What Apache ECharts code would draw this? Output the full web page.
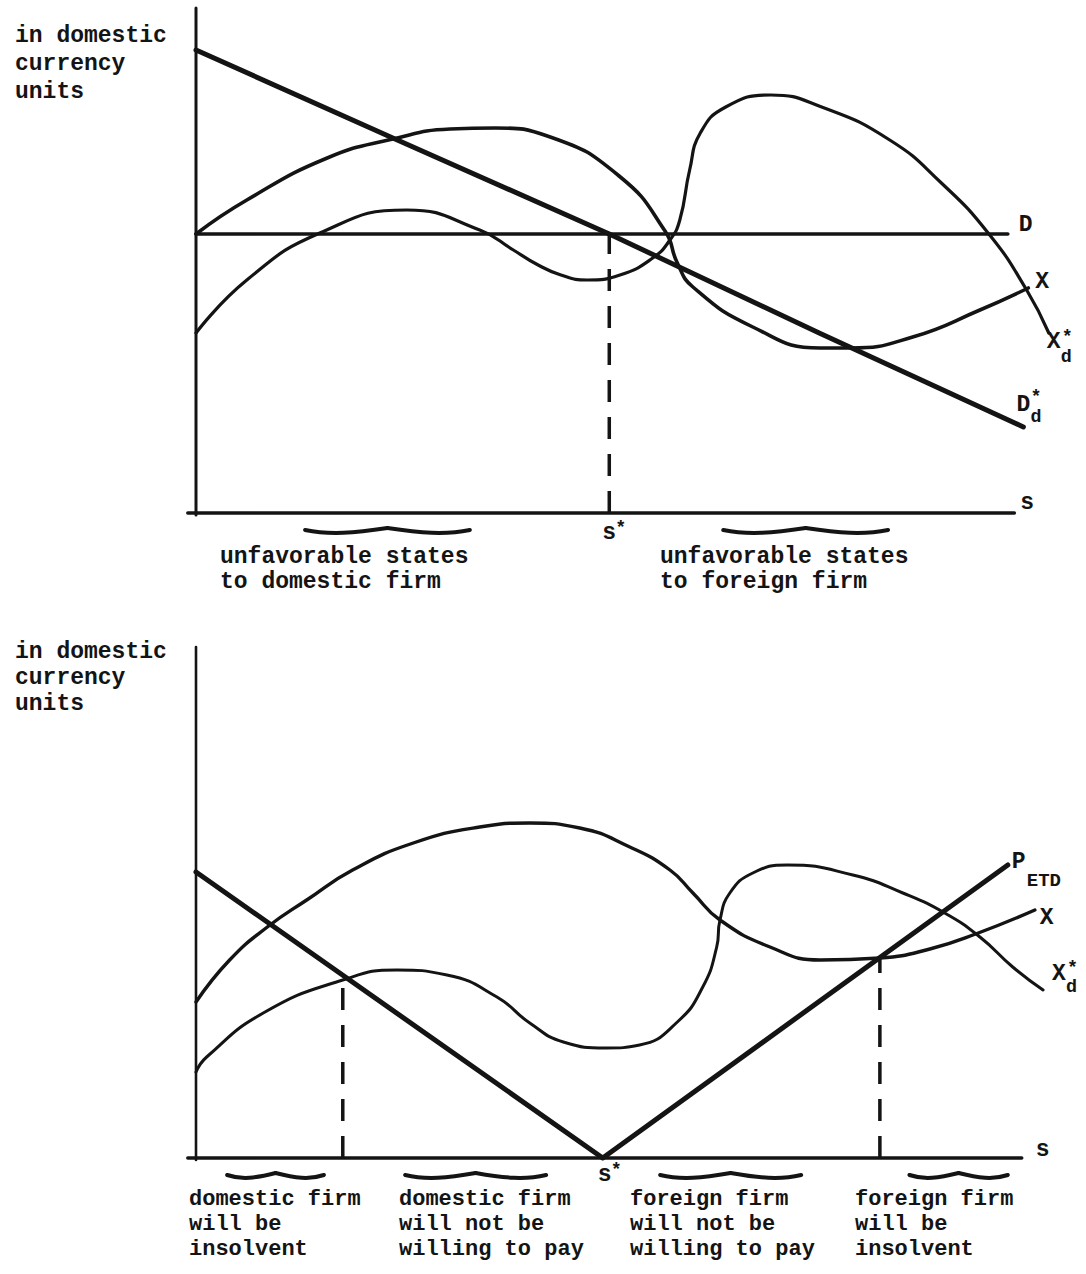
<!DOCTYPE html>
<html>
<head>
<meta charset="utf-8">
<script src="https://cdn.jsdelivr.net/npm/echarts@6/dist/echarts.min.js"></script>
<style>
html,body{margin:0;padding:0;background:#fff;}
#chart{width:1086px;height:1274px;}
</style>
</head>
<body>
<div id="chart"></div>
<script>
// ---------- DATA (s = state axis, value = domestic currency units) ----------
// Top panel
const topAxisS   = [[-1, 0], [99.8, 0]];
const topAxisV   = [[0, -0.4], [0, 101]];
const topD       = [[0, 55.8], [99, 55.8]];
const topDdStar  = [[0, 92.6], [24, 75], [50.4, 55.8], [76, 36], [100.9, 17.2]];
const topX       = [[0, 55.8], [6.2, 62.6], [16, 71], [24, 74.8], [31, 76.8], [36.5, 77], [43.2, 75.2],
                    [51.6, 67.4], [57.2, 56.4], [58.7, 50], [60.6, 45.2], [67.9, 37.2],
                    [76.1, 33], [79.8, 33], [87.4, 35.2], [95.6, 40.6], [101.5, 45]];
const topXdStar  = [[0, 36], [6.2, 46.6], [15.1, 56], [25.7, 60.6], [34.6, 56.6], [38.7, 52.6],
                    [41.5, 49.8], [44.5, 47.6], [47.7, 46.6], [51.7, 47.6], [55.7, 51], [57.8, 54.6],
                    [59, 58.6], [60.2, 68.6], [61.5, 76], [64.6, 81.2], [70.1, 83.6], [76.3, 81.2],
                    [84.6, 74.6], [90.9, 66], [96.7, 55.8], [101.3, 44.6], [104, 36]];
const topSStar   = [[50.4, 0], [50.4, 55.8]];
const topBraces  = [[13.3, 33.4], [64.3, 84.4]];
const topNotes   = ["unfavorable states\nto domestic firm", "unfavorable states\nto foreign firm"];

// Bottom panel
const botAxisS   = [[-1, 0], [100.7, 0]];
const botAxisV   = [[0, -0.4], [0, 102.2]];
const botPETD    = [[0, 57.2], [49.6, 0], [99, 58.6]];
const botX       = [[0, 31.2], [4.1, 39.6], [8.7, 46.2], [13.5, 51.6], [19.1, 57.6], [26.5, 63],
                    [34.6, 66.2], [40.7, 67], [46.8, 66], [52.9, 62.2], [57.8, 57.6], [60.6, 53],
                    [63.9, 47.6], [70, 42.2], [76.1, 39.6], [83.4, 40], [89.5, 41.8], [95.4, 45],
                    [102.3, 49.6]];
const botXdStar  = [[0, 17.2], [1.3, 20.2], [8.2, 29], [17.9, 35.6], [24.5, 37.6], [30.6, 36.6],
                    [36.7, 32.2], [40.7, 27], [44.8, 23.2], [50, 22], [54.1, 22.6], [58.7, 27.2],
                    [61.8, 34.2], [63.5, 42.2], [63.9, 47.6], [65.1, 53], [67.9, 57], [72.1, 58.6],
                    [80.1, 56.6], [86.2, 53], [91.3, 49], [95.6, 44.2], [99.6, 38.2], [103.3, 33.6]];
const botDashL   = [[17.9, 0], [17.9, 35.6]];
const botDashR   = [[83.4, 0], [83.4, 40]];
const botBraces  = [[3.8, 15.6], [25.5, 42.7], [56.6, 73.8], [87, 99]];
const botNotes   = ["domestic firm\nwill be\ninsolvent",
                    "domestic firm\nwill not be\nwilling to pay",
                    "foreign firm\nwill not be\nwilling to pay",
                    "foreign firm\nwill be\ninsolvent"];
const yTitle     = "in domestic\ncurrency\nunits";

// ---------- CHART ----------
const INK = '#141414';
const FONT = '"Liberation Mono", "DejaVu Sans Mono", monospace';
const chart = echarts.init(document.getElementById('chart'), null, {renderer: 'svg'});

function ln(data, gi, w, extra) {
  return Object.assign({
    type: 'line', xAxisIndex: gi, yAxisIndex: gi, data: data,
    showSymbol: false, symbol: 'none', silent: true, animation: false, clip: false,
    lineStyle: {color: INK, width: w, cap: 'round', join: 'round'}
  }, extra || {});
}
const curve = {smooth: 0.5};
const dash = (w) => ({lineStyle: {color: INK, width: w, type: [22, 15], cap: 'butt'}});

const xAx = (gi) => ({type: 'value', gridIndex: gi, min: -2, max: 105, show: false});
chart.setOption({
  backgroundColor: '#ffffff',
  animation: false,
  grid: [
    {left: 179.6, width: 877.4, top: 8, height: 505},
    {left: 179.6, width: 877.4, top: 647, height: 511}
  ],
  xAxis: [xAx(0), xAx(1)],
  yAxis: [
    {type: 'value', gridIndex: 0, min: 0, max: 101, show: false},
    {type: 'value', gridIndex: 1, min: 0, max: 102.2, show: false}
  ],
  series: [
    ln(topAxisS, 0, 3.5), ln(topAxisV, 0, 3),
    ln(topD, 0, 3.6),
    ln(topDdStar, 0, 5),
    ln(topX, 0, 3.6, curve),
    ln(topXdStar, 0, 3.2, curve),
    Object.assign(ln(topSStar, 0, 3.5), dash(3.5)),
    ln(botAxisS, 1, 3.5), ln(botAxisV, 1, 2.6),
    ln(botPETD, 1, 5),
    ln(botX, 1, 3.4, curve),
    ln(botXdStar, 1, 3, curve),
    Object.assign(ln(botDashL, 1, 3.5), dash(3.5)),
    Object.assign(ln(botDashR, 1, 3.5), dash(3.5))
  ]
});

// ---------- TEXT & BRACES (anchored through the chart's own scales) ----------
const px = (gi, pt) => chart.convertToPixel({gridIndex: gi}, pt);
const els = [];
function txt(text, x, y, size, opts) {
  els.push(Object.assign({
    type: 'text', silent: true, x: x, y: y,
    style: Object.assign({text: text, fill: INK, fontFamily: FONT, fontWeight: 'bold',
                          fontSize: size, align: 'left', verticalAlign: 'middle'}, opts || {})
  }));
}
function brace(gi, range, dy) {
  const a = px(gi, [range[0], 0]), b = px(gi, [range[1], 0]);
  const y = a[1] + dy, x0 = a[0], x1 = b[0], xm = (x0 + x1) / 2, w = x1 - x0;
  const st = {stroke: INK, lineWidth: 4, fill: 'none', lineCap: 'round'};
  els.push({type: 'bezierCurve', silent: true, style: st,
    shape: {x1: x0, y1: y - 1, cpx1: x0 + w * 0.15, cpy1: y + 4, cpx2: xm - w * 0.2, cpy2: y + 2, x2: xm, y2: y - 3}});
  els.push({type: 'bezierCurve', silent: true, style: st,
    shape: {x1: xm, y1: y - 3, cpx1: xm + w * 0.2, cpy1: y + 2, cpx2: x1 - w * 0.15, cpy2: y + 4, x2: x1, y2: y - 1}});
}
function starLabel(main, x, y, size, starDx, starDy, subDx, subDy, sub) {
  txt(main, x, y, size);
  if (starDx !== null) txt('*', x + starDx, y + starDy, size * 0.8);
  if (sub) txt(sub, x + subDx, y + subDy, size * 0.8);
}

// axis titles
txt(yTitle, 15, 22, 23, {verticalAlign: 'top', lineHeight: 28});
txt(yTitle, 15, 639, 23, {verticalAlign: 'top', lineHeight: 26});

// top panel labels
let p;
p = px(0, topD[topD.length - 1]);            txt('D', p[0] + 11, p[1] - 9, 23);
p = px(0, topX[topX.length - 1]);            txt('X', p[0] + 7, p[1] - 6, 23);
p = px(0, topXdStar[topXdStar.length - 1]);  starLabel('X', p[0] - 2, p[1] + 9, 23, 15, -5, 14, 15, 'd');
p = px(0, topDdStar[topDdStar.length - 1]);  starLabel('D', p[0] - 7, p[1] - 22, 23, 14, -8, 14, 12, 'd');
p = px(0, topAxisS[1]);                      txt('s', p[0] + 6, p[1] - 10, 23);
p = px(0, [topSStar[0][0], 0]);              starLabel('s', p[0] - 7, p[1] + 20, 23, 13, -5, 0, 0, null);

// bottom panel labels
p = px(1, botPETD[botPETD.length - 1]);      txt('P', p[0] + 4, p[1] - 3, 23);
                                             txt('ETD', p[0] + 19, p[1] + 16, 19);
p = px(1, botX[botX.length - 1]);            txt('X', p[0] + 5, p[1] + 8, 23);
p = px(1, botXdStar[botXdStar.length - 1]);  starLabel('X', p[0] + 9, p[1] - 16, 23, 15, -6, 14, 13, 'd');
p = px(1, botAxisS[1]);                      txt('s', p[0] + 14, p[1] - 8, 23);
p = px(1, botPETD[1]);                       starLabel('s', p[0] - 5, p[1] + 17, 23, 13, -5, 0, 0, null);

// braces
topBraces.forEach(r => brace(0, r, 18));
botBraces.forEach(r => brace(1, r, 18));

// notes
txt(topNotes[0], 220, 544.5, 23, {verticalAlign: 'top', lineHeight: 25});
txt(topNotes[1], 660, 544.5, 23, {verticalAlign: 'top', lineHeight: 25});
const noteX = [189, 399, 630, 855];
botNotes.forEach((t, i) => txt(t, noteX[i], 1186.5, 22, {verticalAlign: 'top', lineHeight: 25}));

chart.setOption({graphic: {elements: els}});
</script>
</body>
</html>
